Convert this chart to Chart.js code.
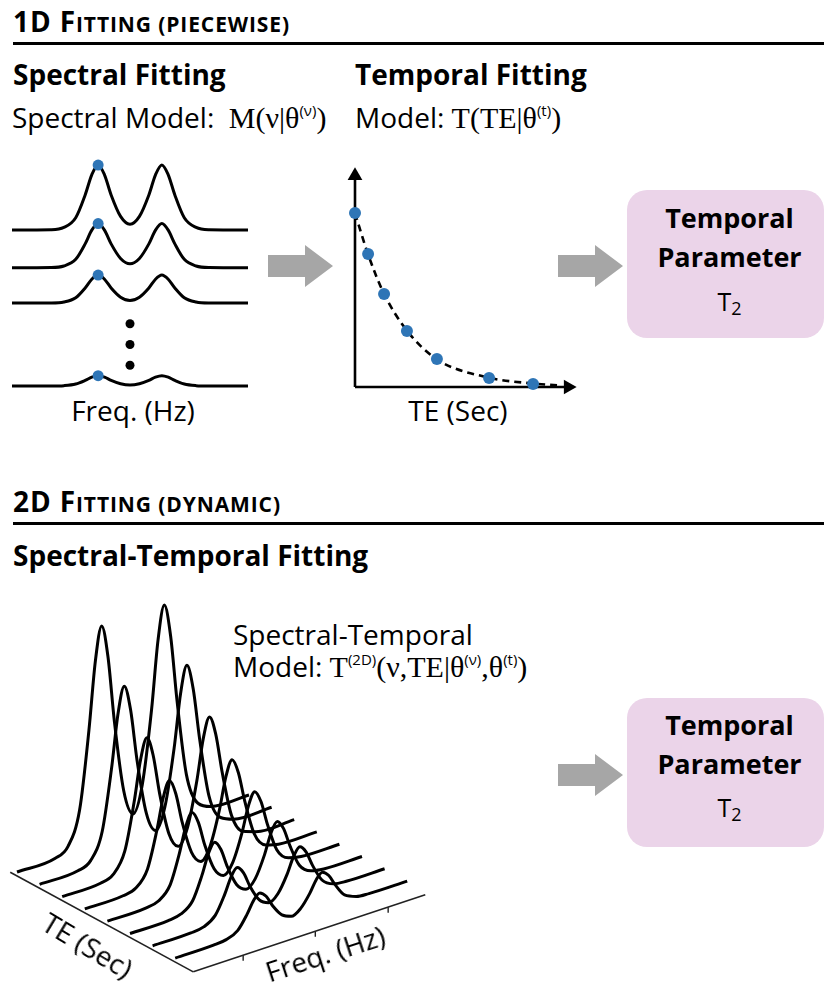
<!DOCTYPE html>
<html>
<head>
<meta charset="utf-8">
<title>Piecewise vs dynamic fitting</title>
<script src="https://cdn.jsdelivr.net/npm/chart.js@4.4.0/dist/chart.umd.min.js"></script>
<style>
body{margin:0;background:#fff;}
#page{position:relative;width:824px;height:982px;overflow:hidden;font-family:"Open Sans",sans-serif;color:#000;}
.t{position:absolute;white-space:nowrap;line-height:1;}
.hd{font-size:28px;font-weight:700;letter-spacing:0.9px;}
.sc{font-size:21px;line-height:0;}
.b{font-size:28px;font-weight:700;}
.r{font-size:28px;}
.m{font-family:"Liberation Serif",serif;font-size:30px;line-height:0;}
.sup{font-family:"Open Sans",sans-serif;font-size:15px;line-height:0;position:relative;top:-12px;}
.rule{position:absolute;left:13px;right:0;height:2.5px;background:#000;}
.box{position:absolute;left:627px;width:197px;border-radius:20px;background:#ebd4e9;}
.bt{position:absolute;left:627px;width:205px;text-align:center;line-height:1;}
.sub{font-size:18px;line-height:0;position:relative;top:4px;}
.arrow{position:absolute;width:65px;height:42px;background:#a6a6a6;
  clip-path:polygon(0 10px,37px 10px,37px 0,65px 21px,37px 42px,37px 32px,0 32px);}
.lbl{position:absolute;font-size:28px;line-height:1;white-space:nowrap;transform-origin:50% 50%;}
canvas{position:absolute;}
</style>
</head>
<body>
<div id="page">
  <div class="t hd" style="left:13px;top:7px">1D F<span class="sc">ITTING (PIECEWISE)</span></div>
  <div class="rule" style="top:42px"></div>
  <div class="t b" style="left:13px;top:60px">Spectral Fitting</div>
  <div class="t b" style="left:355px;top:60px">Temporal Fitting</div>
  <div class="t r" style="left:12px;top:103px">Spectral Model:&nbsp; <span class="m">M(ν|θ<span class="sup">(ν)</span>)</span></div>
  <div class="t r" style="left:355px;top:103px">Model: <span class="m">T(TE|θ<span class="sup">(t)</span>)</span></div>
  <div class="t r" style="left:33px;width:200px;text-align:center;top:396px">Freq. (Hz)</div>
  <div class="t r" style="left:358px;width:200px;text-align:center;top:396px">TE (Sec)</div>

  <div class="arrow" style="left:268px;top:245px"></div>
  <div class="arrow" style="left:558px;top:245px"></div>
  <div class="box" style="top:190px;height:148px"></div>
  <div class="bt b" style="top:204px;font-size:27px">Temporal</div>
  <div class="bt b" style="top:243px;font-size:27px">Parameter</div>
  <div class="bt" style="top:289px;font-size:25px">T<span class="sub">2</span></div>

  <div class="t hd" style="left:13px;top:487px">2D F<span class="sc">ITTING (DYNAMIC)</span></div>
  <div class="rule" style="top:522px"></div>
  <div class="t b" style="left:13px;top:541px">Spectral-Temporal Fitting</div>
  <div class="t r" style="left:233px;top:620px">Spectral-Temporal</div>
  <div class="t r" style="left:233px;top:652px">Model: <span class="m">T<span class="sup">(2D)</span>(ν,TE|θ<span class="sup">(ν)</span>,θ<span class="sup">(t)</span>)</span></div>

  <div class="arrow" style="left:558px;top:754px"></div>
  <div class="box" style="top:698px;height:149px"></div>
  <div class="bt b" style="top:711px;font-size:27px">Temporal</div>
  <div class="bt b" style="top:750px;font-size:27px">Parameter</div>
  <div class="bt" style="top:795px;font-size:25px">T<span class="sub">2</span></div>

  <canvas id="spec1d" width="260" height="260" style="left:0;top:140px"></canvas>
  <canvas id="decay" width="270" height="250" style="left:330px;top:150px"></canvas>
  <canvas id="wall" width="440" height="392" style="left:0;top:590px"></canvas>

  <div class="lbl" style="left:88px;top:945px;transform:translate(-50%,-50%) rotate(31deg)">TE (Sec)</div>
  <div class="lbl" style="left:325px;top:953px;transform:translate(-50%,-50%) rotate(-18deg)">Freq. (Hz)</div>
</div>

<script>
// frequency samples (normalised 0..1), shared by every spectrum
const freq = [0, 0.165, 0.22, 0.27, 0.31, 0.338, 0.365, 0.392, 0.42, 0.46, 0.50, 0.54, 0.58, 0.608, 0.635, 0.662, 0.69, 0.73, 0.78, 0.835, 1];

// 1D panel: spectra at four echo times (top row = shortest TE)
const echoA = [0, 0.005, 0.04, 0.19, 0.54, 0.85, 1.00, 0.85, 0.54, 0.21, 0.09, 0.21, 0.54, 0.85, 1.00, 0.85, 0.54, 0.19, 0.04, 0.005, 0];
const echoB = [0, 0.003, 0.027, 0.129, 0.367, 0.578, 0.68, 0.578, 0.367, 0.143, 0.061, 0.143, 0.367, 0.578, 0.68, 0.578, 0.367, 0.129, 0.027, 0.003, 0];
const echoC = [0, 0.002, 0.017, 0.082, 0.232, 0.366, 0.43, 0.366, 0.232, 0.09, 0.039, 0.09, 0.232, 0.366, 0.43, 0.366, 0.232, 0.082, 0.017, 0.002, 0];
const echoD = [0, 0.001, 0.006, 0.03, 0.086, 0.136, 0.16, 0.136, 0.086, 0.034, 0.014, 0.034, 0.086, 0.136, 0.16, 0.136, 0.086, 0.03, 0.006, 0.001, 0];
const peakIdx = 6;   // first peak, the one fitted per echo

// temporal fit: fitted peak amplitude vs TE
const teSec = [0, 0.059, 0.131, 0.234, 0.369, 0.604, 0.802];
const amp = [0.791, 0.605, 0.423, 0.255, 0.127, 0.041, 0.014];
const fitTe = [0, 0.06, 0.13, 0.235, 0.37, 0.6, 0.8, 0.91];
const fitAmp = [0.79, 0.6, 0.425, 0.255, 0.125, 0.043, 0.016, 0.008];

// 2D panel: eight TE steps, back (shortest TE) to front
const wall1 = [0, 0.005, 0.04, 0.19, 0.54, 0.85, 1.00, 0.85, 0.54, 0.21, 0.09, 0.21, 0.54, 0.85, 1.00, 0.85, 0.54, 0.19, 0.04, 0.005, 0];
const wall2 = [0, 0.004, 0.031, 0.148, 0.421, 0.663, 0.78, 0.663, 0.421, 0.164, 0.07, 0.164, 0.421, 0.663, 0.78, 0.663, 0.421, 0.148, 0.031, 0.004, 0];
const wall3 = [0, 0.003, 0.024, 0.114, 0.324, 0.51, 0.60, 0.51, 0.324, 0.126, 0.054, 0.126, 0.324, 0.51, 0.60, 0.51, 0.324, 0.114, 0.024, 0.003, 0];
const wall4 = [0, 0.002, 0.018, 0.087, 0.248, 0.391, 0.46, 0.391, 0.248, 0.097, 0.041, 0.097, 0.248, 0.391, 0.46, 0.391, 0.248, 0.087, 0.018, 0.002, 0];
const wall5 = [0, 0.002, 0.015, 0.07, 0.2, 0.315, 0.37, 0.315, 0.2, 0.078, 0.033, 0.078, 0.2, 0.315, 0.37, 0.315, 0.2, 0.07, 0.015, 0.002, 0];
const wall6 = [0, 0.001, 0.012, 0.055, 0.157, 0.247, 0.29, 0.247, 0.157, 0.061, 0.026, 0.061, 0.157, 0.247, 0.29, 0.247, 0.157, 0.055, 0.012, 0.001, 0];
const wall7 = [0, 0.001, 0.009, 0.044, 0.124, 0.196, 0.23, 0.196, 0.124, 0.048, 0.021, 0.048, 0.124, 0.196, 0.23, 0.196, 0.124, 0.044, 0.009, 0.001, 0];
const wall8 = [0, 0.001, 0.007, 0.032, 0.092, 0.145, 0.17, 0.145, 0.092, 0.036, 0.015, 0.036, 0.092, 0.145, 0.17, 0.145, 0.092, 0.032, 0.007, 0.001, 0];
const freqTicks = [0.215, 0.526, 0.84];

const BLUE = '#2e75b6';

function opts(xmin, xmax, ymin, ymax, rev)
{
    return {
        responsive:false,
        animation:false,
        devicePixelRatio:1,
        layout:{padding:0, autoPadding:false},
        plugins:{legend:{display:false}, tooltip:{enabled:false}},
        scales:{
            x:{type:'linear', display:false, min:xmin, max:xmax},
            y:{type:'linear', display:false, min:ymin, max:ymax, reverse:!!rev}
        }
    };
}

function curve(points, width, extra)
{
    return Object.assign({
        data:points,
        showLine:true,
        borderColor:'#000',
        borderWidth:width,
        pointRadius:0,
        cubicInterpolationMode:'monotone',
        clip:false,
        order:1
    }, extra || {});
}

function dots(points, color, r)
{
    return {
        data:points,
        showLine:false,
        pointRadius:r,
        pointBackgroundColor:color,
        pointBorderWidth:0,
        clip:false,
        order:0
    };
}

function loadSpectra1D()
{
    const echoes = [echoA, echoB, echoC, echoD];
    // vertical stacking of the rows, in peak-height units
    const rowY = [2.615, 2.035, 1.492, 0.215];
    const sets = [];
    const peaks = [];

    echoes.forEach(function(e, r) {
        sets.push(curve(freq.map(function(f, i) { return {x:f, y:rowY[r] + e[i]}; }), 3));
        peaks.push({x:freq[peakIdx], y:rowY[r] + e[peakIdx]});
    });
    sets.push(dots(peaks, BLUE, 5.5));

    // "more echoes" ellipsis between the third and last row
    const gap = (rowY[2] - rowY[3]) / 4;
    sets.push(dots([1, 2, 3].map(function(n) { return {x:0.5, y:rowY[2] - gap * n}; }), '#000', 4.5));

    new Chart(document.getElementById('spec1d'), {
        type:'scatter',
        data:{datasets:sets},
        options:opts(-0.0508, 1.0508, 0, 4)
    });
}

function loadDecay()
{
    const axisEnd = 0.96;
    const arrowHead = {pointRadius:[0, 8.5], pointStyle:'triangle', pointBackgroundColor:'#000', pointBorderWidth:0};

    new Chart(document.getElementById('decay'), {
        type:'scatter',
        data:{datasets:[
            dots(teSec.map(function(t, i) { return {x:t, y:amp[i]}; }), BLUE, 6),
            curve(fitTe.map(function(t, i) { return {x:t, y:fitAmp[i]}; }), 2.6, {borderDash:[7, 5]}),
            curve([{x:0, y:0}, {x:0, y:axisEnd}], 2.6, Object.assign({pointRotation:0}, arrowHead)),
            curve([{x:0, y:0}, {x:axisEnd, y:0}], 2.6, Object.assign({pointRotation:90}, arrowHead))
        ]},
        options:opts(-0.1126, 1.1036, -0.0591, 1.0773)
    });
}

function loadWaterfall()
{
    const walls = [wall1, wall2, wall3, wall4, wall5, wall6, wall7, wall8];
    // oblique view: frequency runs up-right, TE runs down-right, intensity is vertical
    function project(f, k, v)
    {
        return {x:17 + 232 * f + 22.6 * k, y:282 - 77 * f + 12.3 * k - 218 * v};
    }
    const sets = [];

    walls.forEach(function(w, k) {
        sets.push(curve(freq.map(function(f, i) { return project(f, k, w[i]); }), 3));
    });

    const floor = -0.018;
    const front = walls.length - 0.2;
    const axis = {borderColor:'#222', cubicInterpolationMode:'default'};
    sets.push(curve([project(0, -0.3, floor), project(0, front, floor)], 1.6, axis));
    sets.push(curve([project(0, front, floor), project(1, front, floor)], 1.6, axis));
    freqTicks.forEach(function(f) {
        sets.push(curve([project(f, front, floor), project(f, front, floor - 0.025)], 1.4, axis));
    });

    new Chart(document.getElementById('wall'), {
        type:'scatter',
        data:{datasets:sets},
        options:opts(0, 440, 0, 392, true)
    });
}

document.addEventListener('DOMContentLoaded', function()
{
    loadSpectra1D();
    loadDecay();
    loadWaterfall();
});
</script>
</body>
</html>
